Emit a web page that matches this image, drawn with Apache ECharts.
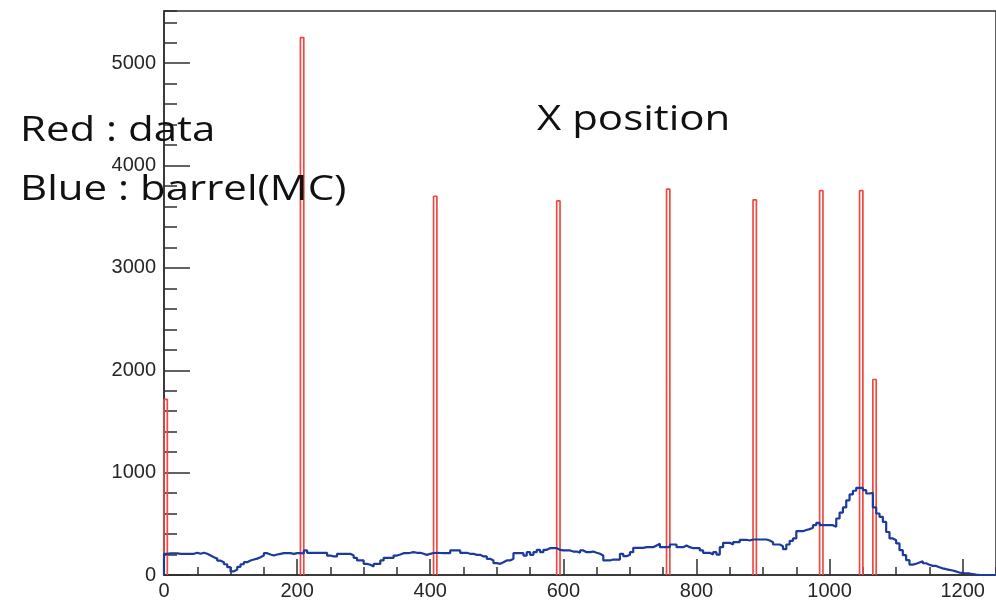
<!DOCTYPE html>
<html>
<head>
<meta charset="utf-8">
<title>X position</title>
<script src="https://cdn.jsdelivr.net/npm/echarts@6/dist/echarts.min.js"></script>
<style>
  html, body { margin: 0; padding: 0; background: #fff; }
  #chart { width: 996px; height: 602px; }
</style>
</head>
<body>
<div id="chart"></div>
<script>
// histogram binning (x units)
const binWidth = 5;
const xMax = 1250;
const yMax = 5510;

// blue : barrel (MC), one count per 5-unit bin starting at 0
const blueCounts = [
  207, 212, 212, 212, 207, 207, 207, 207, 207, 217,
  207, 217, 207, 190, 174, 160, 140, 125, 105, 76,
  35, 54, 80, 105, 125, 142, 151, 160, 174, 190,
  213, 200, 190, 200, 207, 213, 213, 213, 207, 213,
  213, 210, 240, 217, 217, 217, 217, 217, 217, 190,
  181, 181, 207, 207, 207, 207, 190, 168, 142, 142,
  109, 100, 83, 108, 108, 142, 168, 168, 168, 190,
  200, 213, 213, 217, 223, 217, 217, 207, 197, 207,
  215, 217, 215, 213, 213, 213, 240, 240, 240, 217,
  217, 207, 207, 197, 197, 181, 181, 158, 142, 116,
  109, 125, 142, 142, 158, 213, 213, 213, 190, 223,
  197, 223, 246, 223, 246, 262, 262, 262, 246, 240,
  240, 240, 229, 229, 217, 240, 223, 223, 229, 217,
  207, 190, 142, 142, 151, 151, 151, 207, 184, 197,
  223, 265, 265, 265, 272, 272, 272, 289, 305, 272,
  272, 272, 298, 298, 272, 272, 289, 272, 262, 262,
  262, 240, 217, 217, 200, 223, 200, 272, 314, 314,
  298, 321, 321, 344, 344, 337, 347, 347, 347, 347,
  347, 337, 321, 298, 298, 281, 252, 298, 334, 357,
  428, 428, 440, 448, 461, 487, 510, 487, 487, 487,
  487, 470, 552, 610, 660, 730, 787, 823, 852, 852,
  829, 796, 803, 660, 601, 568, 519, 420, 357, 340,
  308, 243, 194, 145, 102, 110, 122, 135, 115, 100,
  89, 89, 75, 65, 57, 50, 44, 35, 24, 20,
  15, 15, 10, 5, 2, 0, 0, 0, 0, 0
];

// red : data, only the filled bins (low edge of the bin and its count)
const redEdges = [0, 205, 405, 590, 755, 885, 985, 1045, 1065];
const redCounts = [1715, 5250, 3700, 3655, 3770, 3665, 3755, 3755, 1910];

// axis ticks
const xMajor = 200, xMinor = 50;
const yMajor = 1000, yMinor = 200;

// step outline of a histogram (step 'end' on bin low edges)
function histOutline(counts) {
  const pts = [[0, 0]];
  counts.forEach((c, i) => pts.push([i * binWidth, c]));
  pts.push([counts.length * binWidth, counts[counts.length - 1]]);
  return pts;
}

// red spikes: a closed box per filled bin, empty bins are left out
function spikeOutline(edges, counts) {
  const pts = [];
  edges.forEach((e, i) => {
    pts.push([e, 0], [e, counts[i]], [e + binWidth, counts[i]], [e + binWidth, 0], [e + binWidth, '-']);
  });
  return pts;
}

const axisColor = '#2f2f2f';
const labelStyle = {
  fontSize: 20, color: '#262626', fontFamily: 'Liberation Sans',
  formatter: v => String(v)
};
const textStyle = { fontSize: 35, fill: '#111', fontFamily: 'Open Sans' };

const chart = echarts.init(document.getElementById('chart'), null, { renderer: 'canvas' });

chart.setOption({
  animation: false,
  grid: {
    left: 164, right: -4, top: 11, bottom: 27,
    show: true, borderColor: axisColor, borderWidth: 1.5, backgroundColor: 'transparent'
  },
  xAxis: [
    {
      type: 'value', min: 0, max: xMax, interval: xMajor, position: 'bottom',
      axisLine: { lineStyle: { color: axisColor, width: 1.5 } },
      axisTick: { inside: true, length: 16, lineStyle: { color: axisColor, width: 1.5 } },
      axisLabel: Object.assign({ margin: 6, showMaxLabel: false }, labelStyle),
      splitLine: { show: false }
    },
    {
      // minor ticks only
      type: 'value', min: 0, max: xMax, interval: xMinor, position: 'bottom', offset: 0,
      axisLine: { show: false },
      axisTick: { inside: true, length: 8, lineStyle: { color: axisColor, width: 1.5 } },
      axisLabel: { show: false },
      splitLine: { show: false }
    }
  ],
  yAxis: [
    {
      type: 'value', min: 0, max: yMax, interval: yMajor, position: 'left',
      axisLine: { show: true, lineStyle: { color: axisColor, width: 1.5 } },
      axisTick: { show: true, inside: true, length: 26, lineStyle: { color: axisColor, width: 1.5 } },
      axisLabel: Object.assign({ margin: 8, showMaxLabel: false }, labelStyle),
      splitLine: { show: false }
    },
    {
      type: 'value', min: 0, max: yMax, interval: yMinor, position: 'left', offset: 0,
      axisLine: { show: false },
      axisTick: { show: true, inside: true, length: 13, lineStyle: { color: axisColor, width: 1.5 } },
      axisLabel: { show: false },
      splitLine: { show: false }
    }
  ],
  series: [
    {
      name: 'data', type: 'line', xAxisIndex: 0, yAxisIndex: 0,
      data: spikeOutline(redEdges, redCounts),
      showSymbol: false, connectNulls: false,
      lineStyle: { color: '#ee4a44', width: 1.7 },
      z: 3
    },
    {
      name: 'barrel(MC)', type: 'line', step: 'end', xAxisIndex: 0, yAxisIndex: 0,
      data: histOutline(blueCounts),
      showSymbol: false,
      lineStyle: { color: '#1c3a9c', width: 2.2 },
      z: 4
    }
  ],
  graphic: [
    { type: 'text', x: 20, y: 131, scaleX: 1.2, z: 100,
      style: Object.assign({ text: 'Red : data', verticalAlign: 'middle' }, textStyle) },
    { type: 'text', x: 20, y: 190, scaleX: 1.2, z: 100,
      style: Object.assign({ text: 'Blue : barrel(MC)', verticalAlign: 'middle' }, textStyle) },
    { type: 'text', x: 537, y: 120, scaleX: 1.2, z: 100,
      style: Object.assign({ text: 'X position', verticalAlign: 'middle' }, textStyle) }
  ]
});
</script>
</body>
</html>
